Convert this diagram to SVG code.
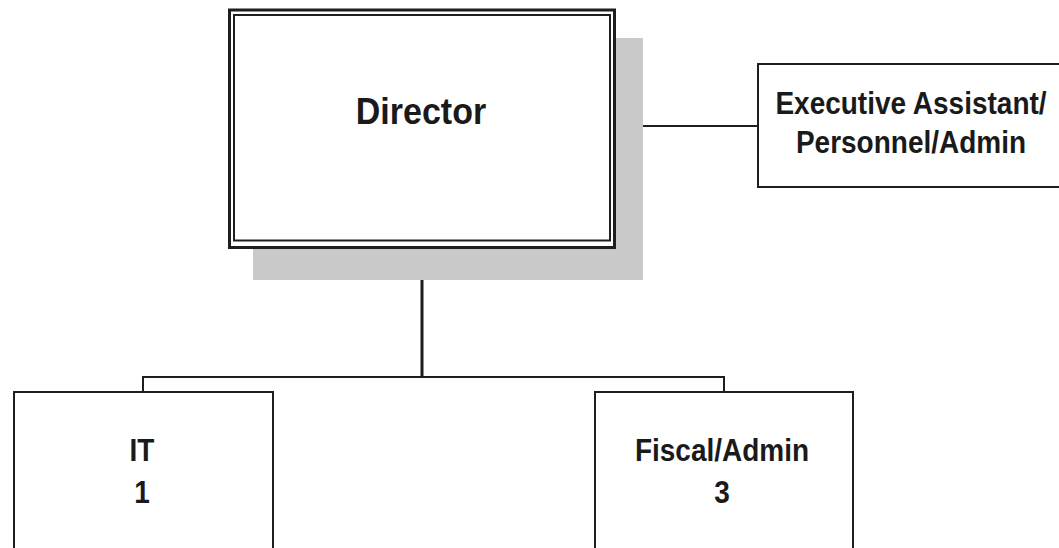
<svg xmlns="http://www.w3.org/2000/svg" width="1059" height="548" viewBox="0 0 1059 548">
  <style>
    .box { fill: #ffffff; stroke: #1e1e1e; stroke-width: 2; }
    .line { fill: none; stroke: #1e1e1e; stroke-width: 2; }
    .label { font-family: "Liberation Sans", Arial, sans-serif; font-weight: bold; fill: #1a1a1a; text-anchor: middle; }
  </style>
  <rect width="1059" height="548" fill="#ffffff"/>

  <!-- connectors -->
  <g id="connectors">
    <line class="line" x1="643" y1="126" x2="758" y2="126"/>
    <line class="line" x1="422" y1="248" x2="422" y2="377" style="stroke-width:3"/>
    <polyline class="line" points="143,392 143,377 724,377 724,392"/>
  </g>

  <!-- Director -->
  <g id="director">
    <rect x="253" y="38" width="390" height="242" fill="#c9c9c9"/>
    <rect x="229.5" y="10" width="385" height="237.5" fill="#ffffff" stroke="#1e1e1e" stroke-width="3"/>
    <rect x="234" y="15" width="376" height="225.5" fill="none" stroke="#1e1e1e" stroke-width="2"/>
    <text class="label" font-size="34" transform="translate(421,124) scale(1,1.1)">Director</text>
  </g>

  <!-- Executive Assistant -->
  <g id="exec-assistant">
    <rect class="box" x="758" y="64" width="310" height="123"/>
    <text class="label" font-size="28" transform="translate(911,114) scale(1,1.1)">Executive Assistant/</text>
    <text class="label" font-size="28" transform="translate(911,153) scale(1,1.1)">Personnel/Admin</text>
  </g>

  <!-- IT -->
  <g id="it">
    <rect class="box" x="14" y="392" width="259" height="170"/>
    <text class="label" font-size="28" transform="translate(142,461) scale(1,1.1)">IT</text>
    <text class="label" font-size="28" transform="translate(142,503) scale(1,1.1)">1</text>
  </g>

  <!-- Fiscal/Admin -->
  <g id="fiscal-admin">
    <rect class="box" x="595" y="392" width="258" height="170"/>
    <text class="label" font-size="28" transform="translate(722,461) scale(1,1.1)">Fiscal/Admin</text>
    <text class="label" font-size="28" transform="translate(722,503) scale(1,1.1)">3</text>
  </g>
</svg>
